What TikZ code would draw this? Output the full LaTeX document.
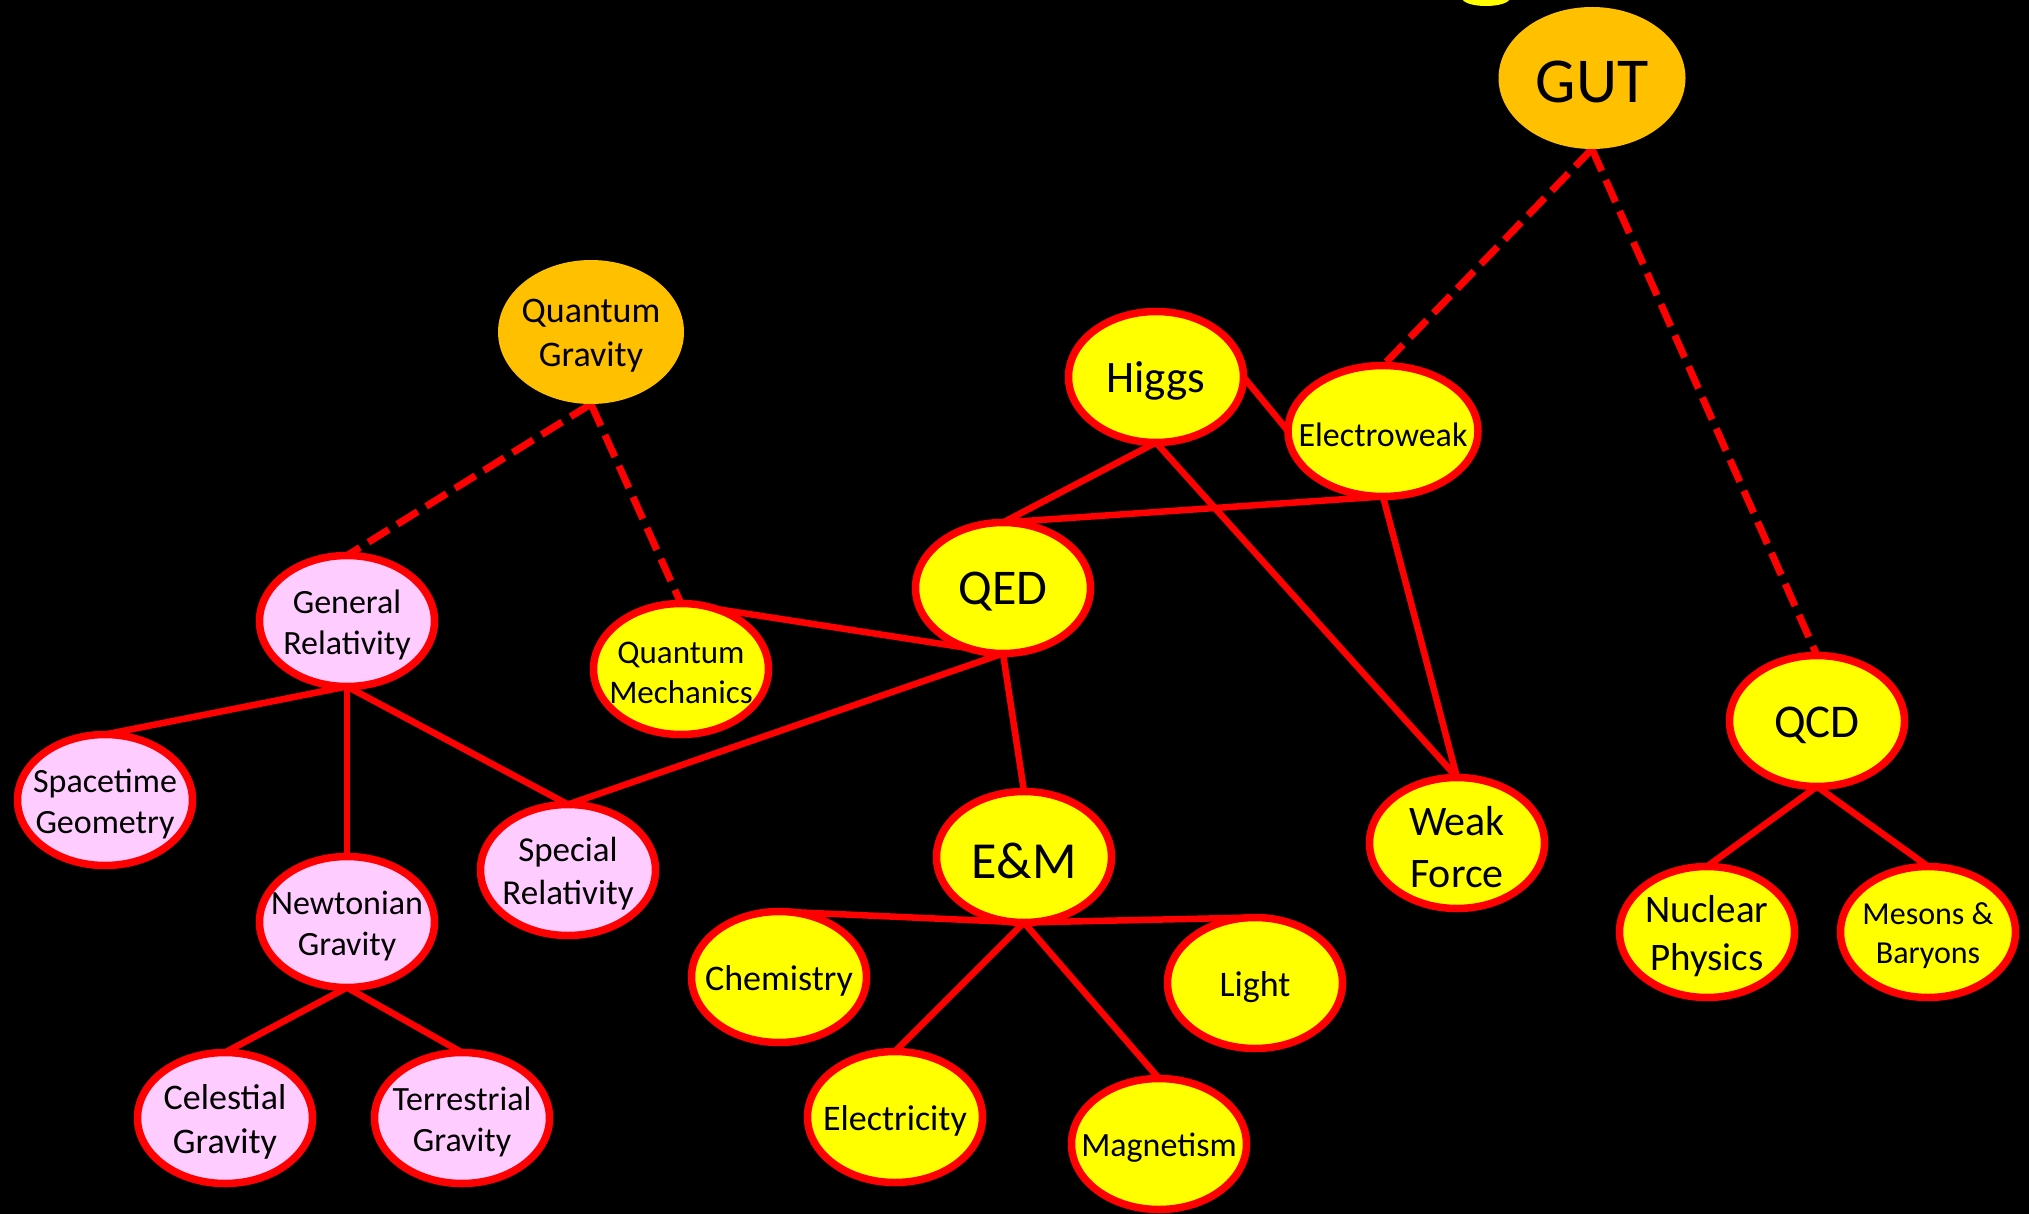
\documentclass[tikz,border=0pt]{standalone}
\usepackage{fontspec}
\setmainfont{Carlito}
\usetikzlibrary{shapes.geometric}
\definecolor{yel}{RGB}{255,255,0}
\definecolor{org}{RGB}{255,192,0}
\definecolor{pnk}{RGB}{255,204,255}
\definecolor{rd}{RGB}{255,0,0}
\pgfdeclarelayer{bg}
\pgfdeclarelayer{edges}
\pgfsetlayers{bg,edges,main}
\newcommand\fs[1]{\fontsize{#1}{\fpeval{1.22*#1}}\selectfont}
\tikzset{
  x=1pt, y=-1pt,
  nd/.style={ellipse, draw=rd, line width=7.5pt, fill=yel, minimum width=175pt,
    minimum height=131pt, inner sep=0pt, outer sep=0pt},
  pk/.style={nd, fill=pnk},
  og/.style={ellipse, fill=org, inner sep=0pt, outer sep=0pt},
  ln/.style={draw=rd, line width=6.5pt},
  dl/.style={draw=rd, line width=7pt, dash pattern=on 24pt off 10pt},
}
% #1 style, #2 name, #3 x, #4 y, #5 font size, #6 text
\newcommand\bub[6]{\node[#1, label={[name=#2-t, font=\fs{#5}, align=center, inner sep=0pt, yshift=-4pt]center:#6}] (#2) at (#3,#4) {};}
\begin{document}
\begin{tikzpicture}
\useasboundingbox (0,0) rectangle (2029,1214);
\begin{pgfonlayer}{bg}
  \fill[black] (0,0) rectangle (2029,1214);
\end{pgfonlayer}
\fill[yel] (1486,-2) ellipse [x radius=24pt, y radius=8pt];

\bub{og, minimum width=187pt, minimum height=142pt}{gut}{1592}{78}{64}{GUT}
\bub{og, minimum width=186pt, minimum height=144pt}{qg}{591}{332}{36}{Quantum\\Gravity}

\bub{nd}{higgs}{1156}{377}{45}{Higgs}
\bub{nd, minimum width=190pt}{ew}{1383}{431}{34}{Electroweak}
\bub{nd}{qed}{1003}{588}{50}{QED}
\bub{nd}{qm}{681}{669}{33}{Quantum\\Mechanics}
\bub{pk}{gr}{347}{621}{34}{General\\Relativity}
\bub{pk}{sg}{105}{800}{34}{Spacetime\\Geometry}
\bub{pk}{ng}{347}{922}{34}{Newtonian\\Gravity}
\bub{pk}{sr}{568}{870}{35}{Special\\Relativity}
\bub{pk}{cg}{225}{1118}{36}{Celestial\\Gravity}
\bub{pk}{tg}{462}{1118}{34}{Terrestrial\\Gravity}
\bub{nd}{em}{1024}{857}{52}{E\&M}
\bub{nd}{chem}{779}{977}{36}{Chemistry}
\bub{nd}{light}{1255}{983}{36}{Light}
\bub{nd}{elec}{895}{1117}{36}{Electricity}
\bub{nd}{mag}{1159}{1144}{34}{Magnetism}
\bub{nd}{wf}{1457}{843}{42}{Weak\\Force}
\bub{nd}{qcd}{1817}{721}{47}{QCD}
\bub{nd}{np}{1707}{932}{39}{Nuclear\\Physics}
\bub{nd}{mb}{1928}{932}{32}{Mesons \&\\Baryons}

\begin{pgfonlayer}{edges}
  \draw[dl] (gut.south) -- (ew.north);
  \draw[dl] (gut.south) -- (qcd.north);
  \draw[dl] (qg.south) -- (gr.north);
  \draw[dl] (qg.south) -- (qm.north);
  \draw[ln] (higgs.east) -- (ew.west);
  \draw[ln] (higgs.south) -- (qed.north);
  \draw[ln] (higgs.south) -- (wf.north);
  \draw[ln] (ew.south) -- (qed.north);
  \draw[ln] (ew.south) -- (wf.north);
  \draw[ln] (qm.north) -- (qed.south);
  \draw[ln] (qed.south) -- (sr.north);
  \draw[ln] (qed.south) -- (em.north);
  \draw[ln] (gr.south) -- (sg.north);
  \draw[ln] (gr.south) -- (ng.north);
  \draw[ln] (gr.south) -- (sr.north);
  \draw[ln] (ng.south) -- (cg.north);
  \draw[ln] (ng.south) -- (tg.north);
  \draw[ln] (em.south) -- (chem.north);
  \draw[ln] (em.south) -- (light.north);
  \draw[ln] (em.south) -- (elec.north);
  \draw[ln] (em.south) -- (mag.north);
  \draw[ln] (qcd.south) -- (np.north);
  \draw[ln] (qcd.south) -- (mb.north);
\end{pgfonlayer}
\end{tikzpicture}
\end{document}
